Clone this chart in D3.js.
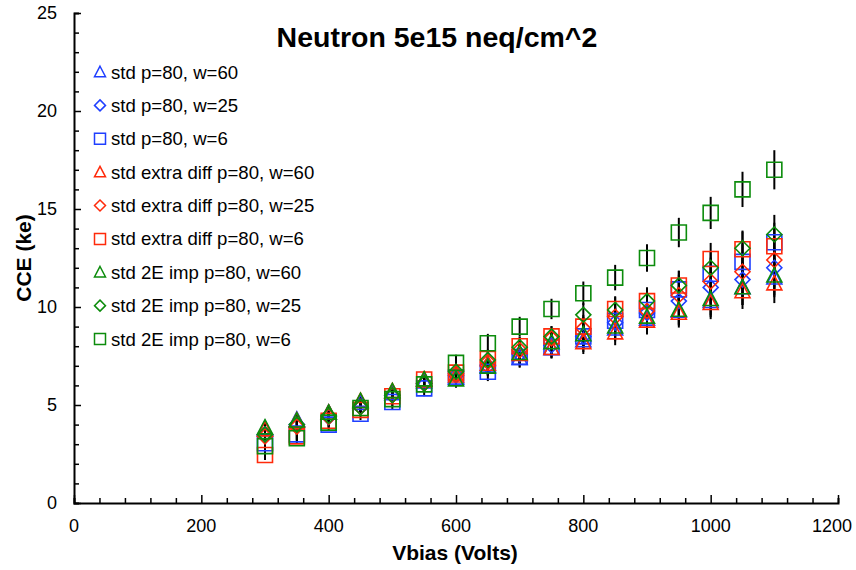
<!DOCTYPE html>
<html>
<head>
<meta charset="utf-8">
<script src="https://cdn.jsdelivr.net/npm/d3@7/dist/d3.min.js"></script>
<style>
body { margin: 0; background: #fff; }
svg { font-family: "Liberation Sans", Arial, Helvetica, sans-serif; }
</style>
</head>
<body>
<div id="chart"></div>
<script>
// bias voltages (V)
var vbias = [300, 350, 400, 450, 500, 550, 600, 650, 700, 750, 800, 850, 900, 950, 1000, 1050, 1100];

// CCE values (ke)
var std_w60 = [3.8, 4.25, 4.6, 5.1, 5.6, 6.2, 6.4, 7.0, 7.4, 7.9, 8.3, 8.9, 9.4, 9.8, 10.3, 11.0, 11.5];
var std_w25 = [3.5, 4.0, 4.4, 4.9, 5.5, 6.1, 6.5, 7.0, 7.6, 8.05, 8.5, 9.2, 9.7, 10.3, 11.0, 11.4, 12.0];
var std_w6 = [3.05, 3.5, 4.0, 4.55, 5.15, 5.85, 6.4, 6.7, 7.45, 7.95, 8.5, 9.3, 9.85, 10.9, 11.7, 12.3, 13.3];
var extra_w60 = [3.75, 4.2, 4.6, 5.2, 5.7, 6.3, 6.5, 7.1, 7.6, 7.9, 8.2, 8.7, 9.3, 9.7, 10.2, 10.8, 11.2];
var extra_w25 = [3.4, 3.9, 4.4, 4.9, 5.5, 6.1, 6.6, 7.2, 7.8, 8.4, 8.9, 9.5, 9.8, 10.6, 11.3, 11.8, 12.4];
var extra_w6 = [2.45, 3.4, 4.2, 4.75, 5.45, 6.3, 6.65, 7.35, 8.0, 8.5, 9.0, 9.9, 10.3, 11.1, 12.45, 12.95, 13.1];
var imp_w60 = [3.85, 4.2, 4.6, 5.2, 5.7, 6.3, 6.3, 6.95, 7.65, 8.2, 8.6, 9.0, 9.5, 9.85, 10.4, 11.0, 11.6];
var imp_w25 = [3.5, 4.0, 4.45, 4.9, 5.5, 6.1, 6.7, 7.3, 7.95, 8.5, 9.6, 9.85, 10.3, 11.1, 12.0, 13.0, 13.7];
var imp_w6 = [2.9, 3.3, 4.1, 4.85, 5.3, 6.05, 7.15, 8.15, 9.0, 9.9, 10.7, 11.5, 12.5, 13.8, 14.8, 16.0, 17.0];

// error bar half-length per voltage (ke)
var cce_err = [0.25, 0.28, 0.3, 0.32, 0.35, 0.4, 0.42, 0.48, 0.5, 0.52, 0.6, 0.65, 0.7, 0.75, 0.82, 0.9, 1.0];

var series_names = ["std p=80, w=60", "std p=80, w=25", "std p=80, w=6",
    "std extra diff p=80, w=60", "std extra diff p=80, w=25", "std extra diff p=80, w=6",
    "std 2E imp p=80, w=60", "std 2E imp p=80, w=25", "std 2E imp p=80, w=6"];
var series_values = [std_w60, std_w25, std_w6, extra_w60, extra_w25, extra_w6, imp_w60, imp_w25, imp_w6];
var series_shapes = ["tri", "dia", "sq", "tri", "dia", "sq", "tri", "dia", "sq"];
var series_colors = ["#1f3fff", "#1f3fff", "#1f3fff", "#ff2a0a", "#ff2a0a", "#ff2a0a", "#0c8c0c", "#0c8c0c", "#0c8c0c"];

var x_ticks = [0, 200, 400, 600, 800, 1000, 1200];
var y_ticks = [0, 5, 10, 15, 20, 25];

var width = 856, height = 570;
var margin = {top: 13, right: 18, bottom: 67, left: 74};

var x = d3.scaleLinear().domain([0, 1200]).range([margin.left, width - margin.right]);
var y = d3.scaleLinear().domain([0, 25]).range([height - margin.bottom, margin.top]);

var svg = d3.select("#chart").append("svg")
    .attr("width", width)
    .attr("height", height);

// marker paths, centred on 0,0
function markerPath(shape, s) {
    var h = s / 2, p = d3.path();
    if (shape == "sq") {
        p.rect(-h, -h, s, s);
    } else if (shape == "tri") {
        p.moveTo(0, -h * 1.05); p.lineTo(h, h * 0.85); p.lineTo(-h, h * 0.85); p.closePath();
    } else {
        p.moveTo(0, -h); p.lineTo(h, 0); p.lineTo(0, h); p.lineTo(-h, 0); p.closePath();
    }
    return p.toString();
}

// Axes ------------------------------
var xaxis = d3.axisBottom(x).tickValues(d3.range(0, 1201, 40)).tickSize(-5).tickFormat("");
var xg = svg.append("g").attr("transform", "translate(0," + y(0) + ")").call(xaxis);
xg.selectAll(".tick line").filter(function (d) { return d % 200 == 0; }).attr("y2", -8);

var yaxis = d3.axisLeft(y).tickValues(d3.range(0, 25.01, 1)).tickSize(-5).tickFormat("");
var yg = svg.append("g").attr("transform", "translate(" + x(0) + ",0)").call(yaxis);
yg.selectAll(".tick line").filter(function (d) { return d % 5 == 0; }).attr("x2", 7);

svg.selectAll(".domain").attr("stroke", "#000").attr("stroke-width", 2);
svg.selectAll(".tick line").attr("stroke", "#000").attr("stroke-width", 1.5);

// last label is pulled in so it stays inside the window
svg.append("g").selectAll("text").data(x_ticks).join("text")
    .attr("x", function (d) { return d == 1200 ? width - 4 : x(d); })
    .attr("y", y(0) + 29)
    .attr("text-anchor", function (d) { return d == 1200 ? "end" : "middle"; })
    .style("font-size", "18px")
    .text(function (d) { return d; });

svg.append("g").selectAll("text").data(y_ticks).join("text")
    .attr("x", x(0) - 17)
    .attr("y", function (d) { return y(d) + 6; })
    .attr("text-anchor", "end")
    .style("font-size", "18px")
    .text(function (d) { return d; });

svg.append("text")
    .attr("x", 455).attr("y", 560)
    .attr("text-anchor", "middle")
    .style("font-size", "21px").style("font-weight", "bold")
    .text("Vbias (Volts)");

svg.append("text")
    .attr("transform", "translate(31,258) rotate(-90)")
    .attr("text-anchor", "middle")
    .style("font-size", "21px").style("font-weight", "bold")
    .text("CCE (ke)");

svg.append("text")
    .attr("x", 437).attr("y", 47)
    .attr("text-anchor", "middle")
    .style("font-size", "28.5px").style("font-weight", "bold")
    .text("Neutron 5e15 neq/cm^2");

// Data ------------------------------
var plot = svg.append("g");

series_values.forEach(function (vals) {
    plot.append("g").selectAll("line").data(vals).join("line")
        .attr("x1", function (d, i) { return x(vbias[i]); })
        .attr("x2", function (d, i) { return x(vbias[i]); })
        .attr("y1", function (d, i) { return y(d - cce_err[i]); })
        .attr("y2", function (d, i) { return y(d + cce_err[i]); })
        .attr("stroke", "#000")
        .attr("stroke-width", 2);
});

series_values.forEach(function (vals, k) {
    plot.append("g").selectAll("path").data(vals).join("path")
        .attr("transform", function (d, i) { return "translate(" + x(vbias[i]) + "," + y(d) + ")"; })
        .attr("d", markerPath(series_shapes[k], 15))
        .attr("fill", "none")
        .attr("stroke", series_colors[k])
        .attr("stroke-width", 1.6);
});

// Legend ------------------------------
var legend_y = d3.scalePoint().domain(series_names).range([72, 339]);
var legend = svg.append("g").selectAll("g").data(series_names).join("g")
    .attr("transform", function (d) { return "translate(100," + legend_y(d) + ")"; });

legend.append("path")
    .attr("d", function (d, k) { return markerPath(series_shapes[k], 11); })
    .attr("fill", "none")
    .attr("stroke", function (d, k) { return series_colors[k]; })
    .attr("stroke-width", 1.5);

legend.append("text")
    .attr("x", 11)
    .attr("y", 6.5)
    .style("font-size", "18.6px")
    .text(function (d) { return d; });
</script>
</body>
</html>
